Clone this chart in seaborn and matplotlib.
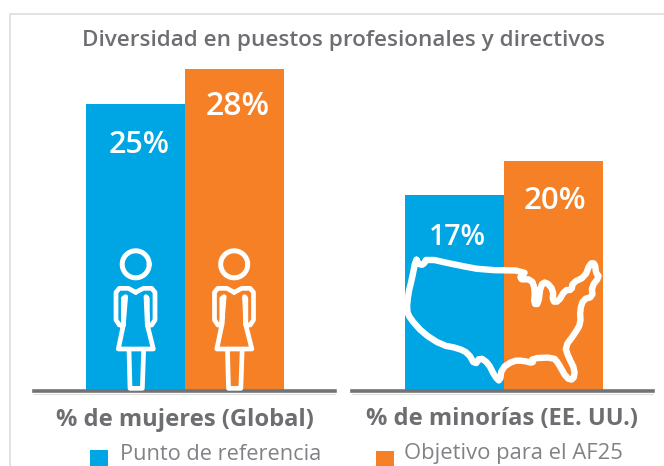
import numpy as np
import pandas as pd
import matplotlib
matplotlib.use('Agg')
import matplotlib.pyplot as plt
from matplotlib.patches import Rectangle
import seaborn as sns

W, H = 664, 466

# datos
grupos = ['% de mujeres (Global)', '% de minorías (EE. UU.)']
series = ['Punto de referencia', 'Objetivo para el AF25']
mujeres = [25, 28]
minorias = [17, 20]
colores = ['#00a5e3', '#f58025']
titulo = 'Diversidad en puestos profesionales y directivos'

gris = '#6d6e71'
px_por_unidad = 11.45
px_por_x = 198 / 0.8

sns.set_theme(style='white')
plt.rcParams['font.family'] = ['Open Sans', 'DejaVu Sans']

fig = plt.figure(figsize=(W / 100, H / 100), dpi=100)


# eje en coordenadas de pixel de la imagen
def eje_barras(x0, x1, centro, grupo, valores):
    base = 390
    ax = fig.add_axes([x0 / W, 1 - base / H, (x1 - x0) / W, (base - 40) / H])
    df = pd.DataFrame({'grupo': grupo, 'serie': series, 'valor': valores})
    sns.barplot(data=df, x='grupo', y='valor', hue='serie', palette=colores, width=0.8, gap=0,
                saturation=1, legend=False, linewidth=0, ax=ax)
    ax.set_xlim((x0 - centro) / px_por_x, (x1 - centro) / px_por_x)
    ax.set_ylim(0, (base - 40) / px_por_unidad)
    ax.set_yticks([])
    ax.set_xticks([])
    ax.set_xlabel('')
    ax.set_ylabel('')
    ax.patch.set_alpha(0)
    for s in ['top', 'left', 'right']:
        ax.spines[s].set_visible(False)
    ax.spines['bottom'].set_color('#727376')
    ax.spines['bottom'].set_linewidth(2.6)
    ax.spines['bottom'].set_position(('outward', 0.8))
    return ax


ax1 = eje_barras(34, 335, 185, grupos[0], mujeres)
ax2 = eje_barras(352, 653, 503.5, grupos[1], minorias)

# capa encima para textos e iconos
over = fig.add_axes([0, 0, 1, 1])
over.set_xlim(0, W)
over.set_ylim(H, 0)
over.axis('off')
over.patch.set_alpha(0)

# marco
over.plot([664, 9.5, 9.5], [13.5, 13.5, 466], color='#e2e2e2', lw=1.4, zorder=1)
# sombra bajo la linea base
over.plot([34, 335], [393.8, 393.8], color='#dedede', lw=0.8, zorder=1)
over.plot([352, 653], [393.8, 393.8], color='#dedede', lw=0.8, zorder=1)

over.text(344, 46, titulo, ha='center', va='baseline', fontsize=16.2, color=gris, fontweight='semibold')

# etiquetas de valor
over.text(139, 153, f'{mujeres[0]}%', ha='center', va='baseline', fontsize=22, color='white', fontweight='semibold')
over.text(238, 115, f'{mujeres[1]}%', ha='center', va='baseline', fontsize=23, color='white', fontweight='semibold')
over.text(457, 245, f'{minorias[0]}%', ha='center', va='baseline', fontsize=20.5, color='white', fontweight='semibold')
over.text(555, 209, f'{minorias[1]}%', ha='center', va='baseline', fontsize=22.5, color='white', fontweight='semibold')

# etiquetas de grupo
over.text(185, 425.5, grupos[0], ha='center', va='baseline', fontsize=17.1, color=gris, fontweight='bold')
over.text(502, 425.5, grupos[1], ha='center', va='baseline', fontsize=17.1, color=gris, fontweight='bold')

# leyenda
over.add_patch(Rectangle((90, 450), 18, 16, color=colores[0], lw=0))
over.add_patch(Rectangle((376, 451), 18, 15, color=colores[1], lw=0))
over.text(120, 459.5, series[0], ha='left', va='baseline', fontsize=15.7, color='#808285')
over.text(404, 459.5, series[1], ha='left', va='baseline', fontsize=15.8, color='#808285')

# icono mujer (trazado en pixeles del zoom x3)
cuerpo = [(227, 187), (205, 175), (178, 175), (168, 187), (168, 270), (178, 285), (190, 285), (190, 205),
          (197, 200), (190, 285), (175, 357), (280, 357), (262, 285), (262, 205), (258, 200), (262, 285),
          (275, 285), (285, 270), (285, 187), (275, 175), (250, 175), (227, 187)]
piernas = [(207, 360), (210, 475), (247, 475), (251, 360)]


def mujer(dx):
    for trazo in [cuerpo, piernas]:
        xs = [60 + p[0] / 3 + dx for p in trazo]
        ys = [230 + p[1] / 3 for p in trazo]
        over.plot(xs, ys, color='white', lw=3.4, solid_joinstyle='round', solid_capstyle='round')
    t = np.linspace(0, 2 * np.pi, 80)
    over.plot(135.7 + dx + 13.5 * np.cos(t), 264.3 + 13.5 * np.sin(t), color='white', lw=3.6)


mujer(0)
mujer(98.5)

# mapa de EE. UU.
mapa = [(78, 85), (85, 102), (100, 105), (110, 85), (200, 105), (280, 120), (410, 122), (385, 148), (425, 148),
        (435, 180), (432, 222), (445, 222), (452, 165), (468, 155), (490, 180), (488, 215), (505, 215), (525, 180),
        (545, 180), (548, 158), (585, 140), (600, 100), (615, 100), (618, 130), (628, 140), (605, 170), (608, 200),
        (580, 208), (570, 240), (572, 280), (555, 310), (525, 350), (535, 380), (555, 420), (550, 450), (530, 445),
        (505, 400), (490, 382), (425, 385), (430, 400), (400, 392), (370, 392), (335, 415), (330, 455), (315, 440),
        (295, 400), (270, 382), (255, 405), (235, 370), (205, 355), (155, 345), (100, 310), (60, 265), (50, 240),
        (55, 190), (65, 150), (78, 85)]


# redondea las esquinas del contorno
def suavizar(puntos, pasos=1):
    p = np.array(puntos, dtype=float)[:-1]
    for _ in range(pasos):
        q = np.roll(p, -1, axis=0)
        p = np.column_stack([0.75 * p + 0.25 * q, 0.25 * p + 0.75 * q]).reshape(-1, 2)
    return np.vstack([p, p[0]])


contorno = suavizar(mapa)
over.plot(390 + contorno[:, 0] / 3, 230 + contorno[:, 1] / 3, color='white', lw=4.6,
          solid_joinstyle='round', solid_capstyle='round')

fig.savefig('out.png', dpi=100)
